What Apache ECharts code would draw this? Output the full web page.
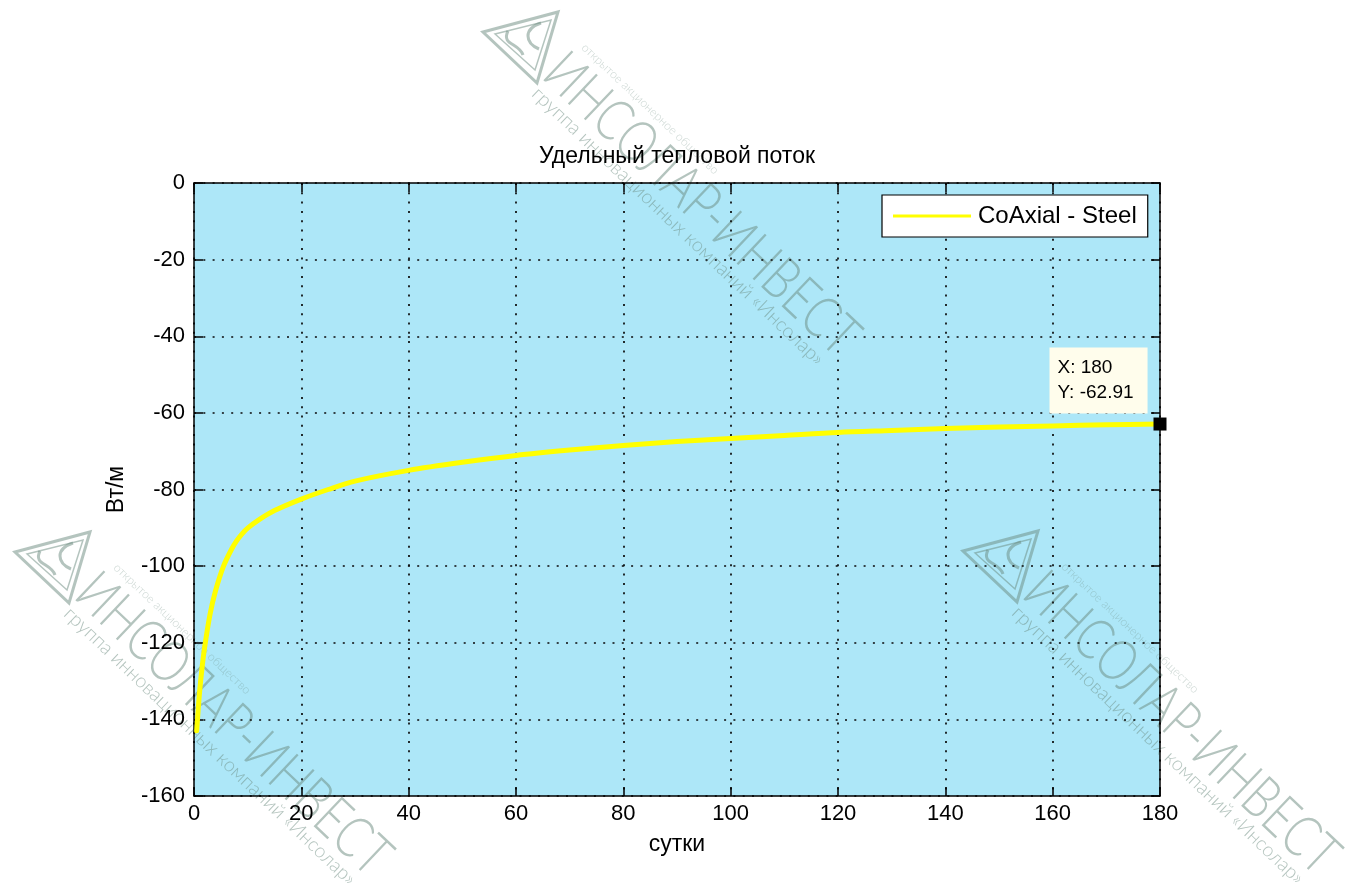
<!DOCTYPE html>
<html>
<head>
<meta charset="utf-8">
<script src="https://cdn.jsdelivr.net/npm/echarts@6/dist/echarts.min.js"></script>
<style>
  html, body { margin: 0; padding: 0; background: #ffffff; }
  #chart { width: 1357px; height: 893px; }
</style>
</head>
<body>
<div id="chart"></div>
<script>
// Heat flux per metre of the coaxial steel borehole exchanger over 180 days
const chartTitle = 'Удельный тепловой поток';
const xName = 'сутки';
const yName = 'Вт/м';
const seriesName = 'CoAxial - Steel';

const days = [0.5, 1, 1.5, 2, 3, 4, 5.5, 7, 8, 9, 10, 12, 15, 20, 25, 30, 40, 50, 60, 70, 80, 90, 100, 110, 120, 130, 140, 150, 160, 170, 180];
const flux = [-143, -133.5, -126.5, -121, -112.5, -106.5, -100, -95.6, -93.3, -91.5, -90.1, -88.0, -85.5, -82.5, -80, -77.8, -75, -72.9, -71.1, -69.7, -68.5, -67.5, -66.7, -65.9, -65.1, -64.6, -64.1, -63.7, -63.4, -63.1, -62.91];

// data cursor point
const tipX = 180;
const tipY = -62.91;

const xMin = 0, xMax = 180, xStep = 20;
const yMin = -160, yMax = 0, yStep = 20;

// watermark texts
const wmMain = 'ИНСОЛАР-ИНВЕСТ';
const wmSub = 'группа инновационных компаний «Инсолар»';
const wmTop = 'открытое акционерное общество';

const FONT = '"Liberation Sans", Arial, sans-serif';
const WM_COLOR = 'rgba(105,138,126,0.5)';
const WM_FAINT = 'rgba(105,138,126,0.35)';

const chart = echarts.init(document.getElementById('chart'), null, { renderer: 'canvas' });

const points = days.map((d, i) => [d, flux[i]]);

function watermark(cx, cy) {
  const ang = -43.5 * Math.PI / 180;
  return {
    type: 'group',
    x: cx, y: cy,
    z: 100,
    silent: true,
    children: [
      // triangular logo
      {
        type: 'polygon',
        shape: { points: [[-80, -41], [-5, -61], [-26, 10]] },
        style: { fill: null, stroke: WM_COLOR, lineWidth: 3 }
      },
      {
        type: 'polygon',
        shape: { points: [[-68, -39], [-12, -53], [-28, -3]] },
        style: { fill: null, stroke: WM_COLOR, lineWidth: 1.5 }
      },
      {
        type: 'bezierCurve',
        shape: { x1: -55, y1: -42, cpx1: -62, cpy1: -28, cpx2: -44, cpy2: -30, x2: -40, y2: -18 },
        style: { fill: null, stroke: WM_COLOR, lineWidth: 3 }
      },
      {
        type: 'bezierCurve',
        shape: { x1: -22, y1: -50, cpx1: -40, cpy1: -44, cpx2: -38, cpy2: -30, x2: -24, y2: -24 },
        style: { fill: null, stroke: WM_COLOR, lineWidth: 3 }
      },
      {
        type: 'group',
        rotation: ang,
        children: [
          {
            type: 'text',
            x: -14, y: 0, scaleX: 0.77,
            style: {
              text: wmMain, fill: WM_COLOR,
              font: '300 58px Lato, "Open Sans", sans-serif',
              textAlign: 'left', textVerticalAlign: 'middle'
            }
          },
          {
            type: 'text',
            x: -8, y: 32,
            style: {
              text: wmSub, fill: WM_COLOR,
              font: '300 19.5px Lato, "Open Sans", sans-serif',
              textAlign: 'left', textVerticalAlign: 'middle'
            }
          },
          {
            type: 'text',
            x: -4, y: -34,
            style: {
              text: wmTop, fill: WM_FAINT,
              font: '300 12px Lato, "Open Sans", sans-serif',
              textAlign: 'left', textVerticalAlign: 'middle'
            }
          }
        ]
      }
    ]
  };
}

const dotted = { type: [2, 7.3], width: 1.7, color: '#0a0a0a' };

const option = {
  backgroundColor: '#ffffff',
  animation: false,
  title: {
    text: chartTitle,
    left: 677, top: 145, textAlign: 'center', padding: 0,
    textStyle: { fontFamily: FONT, fontSize: 23, fontWeight: 'normal', color: '#000' }
  },
  legend: {
    data: [{ name: seriesName, icon: 'rect' }],
    left: 882, top: 195,
    padding: [9, 11, 9, 11],
    backgroundColor: '#ffffff',
    borderColor: '#000000',
    borderWidth: 1.2,
    borderRadius: 0,
    itemWidth: 78, itemHeight: 3,
    itemStyle: { color: '#ffff00' },
    textStyle: { fontFamily: FONT, fontSize: 24, color: '#000', padding: [0, 0, 0, 2] }
  },
  grid: {
    left: 194, right: 197, top: 183, bottom: 97,
    show: true,
    backgroundColor: '#ade7f8',
    borderColor: '#000', borderWidth: 0
  },
  xAxis: [
    {
      type: 'value', min: xMin, max: xMax, interval: xStep,
      position: 'bottom',
      name: xName, nameLocation: 'middle', nameGap: 37,
      nameTextStyle: { fontFamily: FONT, fontSize: 23, color: '#000' },
      axisLine: { show: true, onZero: false, lineStyle: { color: '#000', width: 1.5 } },
      axisTick: { show: true, inside: true, length: 9, lineStyle: { color: '#000', width: 1.5 } },
      axisLabel: { margin: 7, fontFamily: FONT, fontSize: 22, color: '#000' },
      splitLine: { show: true, lineStyle: dotted }
    },
    {
      type: 'value', min: xMin, max: xMax, interval: xStep,
      position: 'top',
      axisLine: { show: true, onZero: false, lineStyle: { color: '#000', width: 1.5 } },
      axisTick: { show: true, inside: true, length: 9, lineStyle: { color: '#000', width: 1.5 } },
      axisLabel: { show: false },
      splitLine: { show: false }
    }
  ],
  yAxis: [
    {
      type: 'value', min: yMin, max: yMax, interval: yStep,
      position: 'left',
      name: yName, nameLocation: 'middle', nameGap: 66, nameRotate: 90,
      nameTextStyle: { fontFamily: FONT, fontSize: 23, color: '#000' },
      axisLine: { show: true, onZero: false, lineStyle: { color: '#000', width: 1.5 } },
      axisTick: { show: true, inside: true, length: 9, lineStyle: { color: '#000', width: 1.5 } },
      axisLabel: { margin: 9, fontFamily: FONT, fontSize: 22, color: '#000' },
      splitLine: { show: true, lineStyle: dotted }
    },
    {
      type: 'value', min: yMin, max: yMax, interval: yStep,
      position: 'right',
      axisLine: { show: true, onZero: false, lineStyle: { color: '#000', width: 1.5 } },
      axisTick: { show: true, inside: true, length: 9, lineStyle: { color: '#000', width: 1.5 } },
      axisLabel: { show: false },
      splitLine: { show: false }
    }
  ],
  series: [
    {
      name: seriesName,
      type: 'line',
      data: points,
      xAxisIndex: 0, yAxisIndex: 0,
      smooth: 0.3,
      symbol: 'none',
      lineStyle: { color: '#ffff00', width: 5, cap: 'round', join: 'round' },
      itemStyle: { color: '#ffff00' },
      z: 3
    },
    {
      name: 'datatip',
      type: 'scatter',
      data: [[tipX, tipY]],
      symbol: 'rect',
      symbolSize: 13,
      clip: false,
      itemStyle: { color: '#000', opacity: 1 },
      z: 10,
      label: {
        show: true,
        position: [-104, -70],
        formatter: p => 'X: ' + p.value[0] + '\n' + 'Y: ' + p.value[1].toFixed(2),
        fontFamily: FONT, fontSize: 19, color: '#000',
        lineHeight: 25,
        backgroundColor: '#fffdec',
        padding: [8, 14, 8, 8]
      }
    }
  ],
  graphic: [
    watermark(563, 73),
    watermark(95, 593),
    watermark(1043, 592)
  ]
};

chart.setOption(option);
</script>
</body>
</html>
